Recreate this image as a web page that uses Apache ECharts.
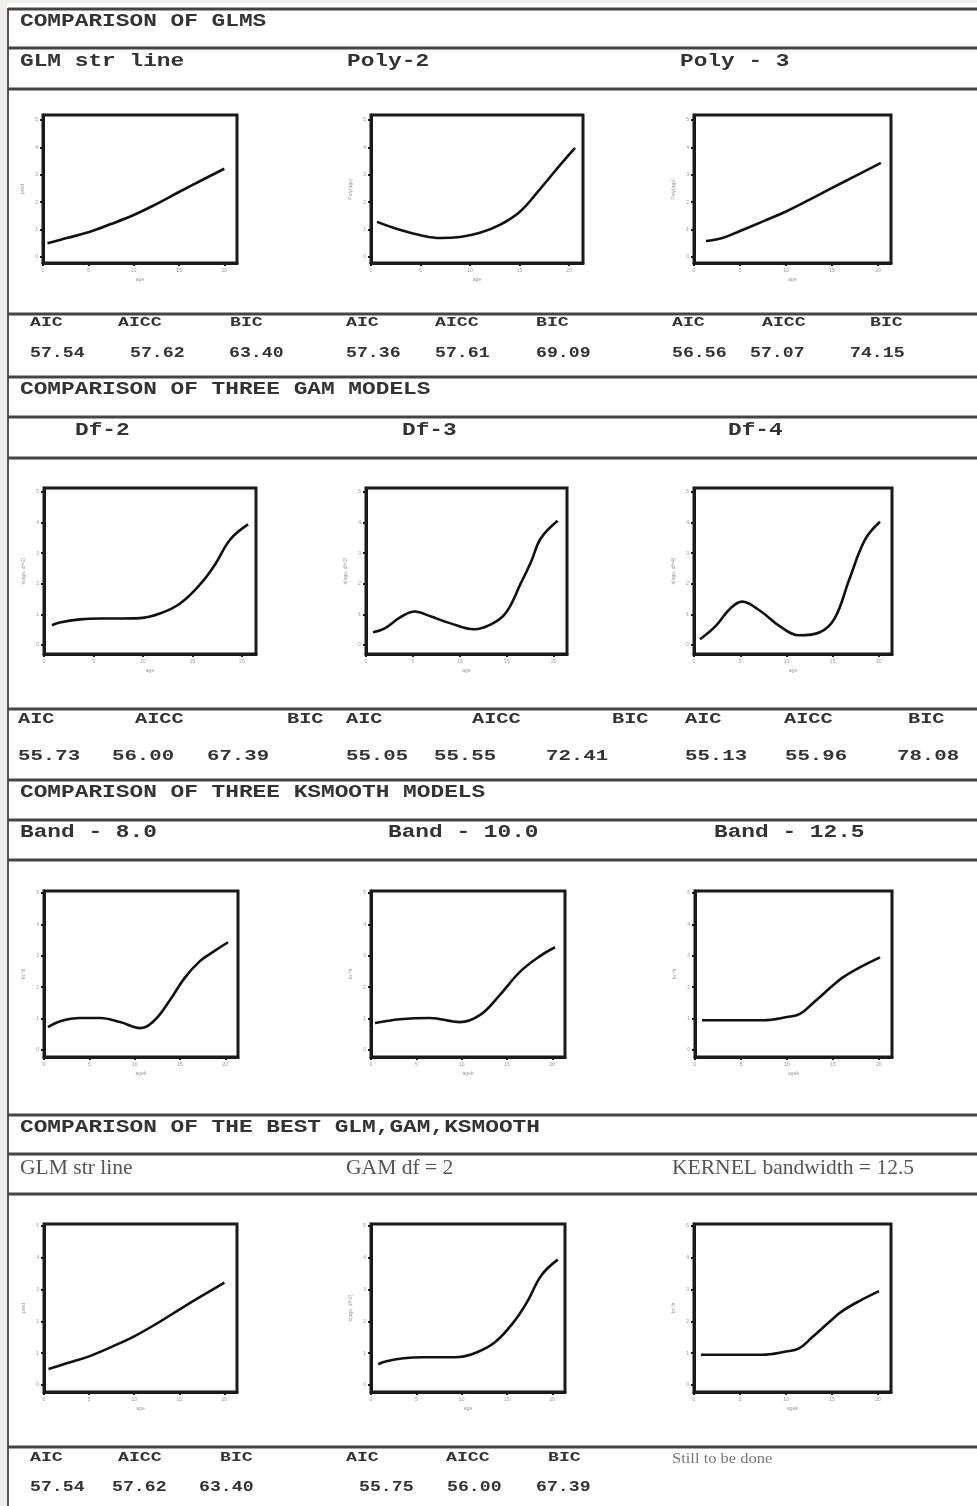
<!DOCTYPE html>
<html><head><meta charset="utf-8">
<script src="https://cdn.jsdelivr.net/npm/echarts@6/dist/echarts.min.js"></script>
<style>html,body{margin:0;padding:0;background:#fff}#c{width:977px;height:1506px}</style>
</head><body><div id="c"></div>
<script>
// ---- data ----
const xTicks = [0, 5, 10, 15, 20];
const yTicks = [0, 1, 2, 3, 4, 5];
const xTickLabels = ['0', '5', '10', '15', '20'];
const yTickLabels = ['0', '1', '2', '3', '4', '5'];

const glmX   = [0.5, 2.5, 5, 7.5, 10, 12.5, 15, 17.5, 20];
const glmY   = [0.5, 0.68, 0.9, 1.2, 1.53, 1.93, 2.37, 2.8, 3.22];
const poly2X = [0.6, 2.9, 4.9, 7.0, 9.0, 11.0, 13.0, 15.0, 17.0, 19.1, 20.6];
const poly2Y = [1.28, 0.99, 0.8, 0.69, 0.73, 0.88, 1.17, 1.64, 2.45, 3.36, 3.98];
const poly3X = [1.3, 3, 5, 7.5, 10, 12.5, 15, 17.5, 20.3];
const poly3Y = [0.58, 0.68, 0.95, 1.3, 1.66, 2.08, 2.52, 2.95, 3.43];
const gam2X  = [0.8, 1.6, 3.6, 5.7, 7.7, 9.7, 11.7, 13.7, 15.8, 17.3, 18.8, 20.6];
const gam2Y  = [0.65, 0.74, 0.84, 0.87, 0.87, 0.88, 1.03, 1.35, 2.0, 2.65, 3.45, 3.94];
const gam3X  = [0.75, 2.0, 3.6, 5.2, 6.85, 9.0, 11.5, 13.3, 14.9, 16.5, 17.6, 18.6, 20.4];
const gam3Y  = [0.42, 0.55, 0.9, 1.1, 0.94, 0.71, 0.52, 0.68, 1.06, 2.03, 2.74, 3.48, 4.06];
const gam4X  = [0.65, 2.3, 3.9, 5.2, 7.1, 9.3, 11.4, 13.6, 15.2, 16.8, 18.5, 20.1];
const gam4Y  = [0.19, 0.61, 1.19, 1.42, 1.13, 0.61, 0.32, 0.42, 0.87, 2.16, 3.45, 4.03];
const band8X  = [0.44, 1.8, 4.0, 6.2, 8.4, 10.6, 12.2, 13.9, 15.5, 17.2, 18.9, 20.3];
const band8Y  = [0.73, 0.92, 1.02, 1.02, 0.89, 0.7, 0.95, 1.59, 2.29, 2.83, 3.17, 3.43];
const band10X = [0.44, 3.2, 6.5, 9.8, 12.0, 14.2, 16.4, 18.6, 20.3];
const band10Y = [0.86, 0.98, 1.02, 0.89, 1.11, 1.75, 2.48, 2.98, 3.27];
const band125X = [0.76, 4.9, 7.4, 10.0, 11.4, 12.8, 15.0, 16.1, 17.9, 20.1];
const band125Y = [0.95, 0.95, 0.95, 1.05, 1.15, 1.49, 2.06, 2.32, 2.63, 2.95];

const sectionTitles = ['COMPARISON OF GLMS', 'COMPARISON OF THREE GAM MODELS',
  'COMPARISON OF THREE KSMOOTH MODELS', 'COMPARISON OF THE BEST GLM,GAM,KSMOOTH'];
const modelNames = [
  ['GLM str line', 'Poly-2', 'Poly - 3'],
  ['Df-2', 'Df-3', 'Df-4'],
  ['Band - 8.0', 'Band - 10.0', 'Band - 12.5'],
  ['GLM str line', 'GAM df = 2', 'KERNEL bandwidth = 12.5']
];
const statNames = ['AIC', 'AICC', 'BIC'];
const glmStats  = ['57.54', '57.62', '63.40', '57.36', '57.61', '69.09', '56.56', '57.07', '74.15'];
const gamStats  = ['55.73', '56.00', '67.39', '55.05', '55.55', '72.41', '55.13', '55.96', '78.08'];
const bestStats = ['57.54', '57.62', '63.40', '55.75', '56.00', '67.39'];
const pendingNote = 'Still to be done';

// ---- layout ----
const panels = [
  {g:[43,115,194,148], x:glmX, y:glmY, yr:[-0.22,5.18], xn:'age', yn:'pred'},
  {g:[371,115,212,148], x:poly2X, y:poly2Y, yr:[-0.22,5.18], xn:'age', yn:'Poly(age)'},
  {g:[694,115,197,148], x:poly3X, y:poly3Y, yr:[-0.22,5.18], xn:'age', yn:'Poly(age)'},
  {g:[44,488,212,166], x:gam2X, y:gam2Y, yr:[-0.29,5.13], xn:'age', yn:'s(age, df=2)'},
  {g:[366,488,201,166], x:gam3X, y:gam3Y, yr:[-0.29,5.13], xn:'age', yn:'s(age, df=3)'},
  {g:[694,488,198,166], x:gam4X, y:gam4Y, yr:[-0.29,5.13], xn:'age', yn:'s(age, df=4)'},
  {g:[44,891,194,166], x:band8X, y:band8Y, yr:[-0.22,5.06], xn:'agek', yn:'ks fit'},
  {g:[371,891,194,166], x:band10X, y:band10Y, yr:[-0.22,5.06], xn:'agek', yn:'ks fit'},
  {g:[695,891,197,166], x:band125X, y:band125Y, yr:[-0.22,5.06], xn:'agek', yn:'ks fit'},
  {g:[44,1224,193,168], x:glmX, y:glmY, yr:[-0.22,5.06], xn:'age', yn:'pred'},
  {g:[371,1224,194,168], x:gam2X, y:gam2Y, yr:[-0.22,5.06], xn:'age', yn:'s(age, df=2)'},
  {g:[694,1224,197,168], x:band125X, y:band125Y, yr:[-0.22,5.06], xn:'agek', yn:'ks fit'}
];

const grid = [], xAxis = [], yAxis = [], series = [];
panels.forEach((p, i) => {
  grid.push({left:p.g[0], top:p.g[1], width:p.g[2], height:p.g[3], show:true,
    borderColor:'#1a1a1a', borderWidth:3, backgroundColor:'#fff'});
  xAxis.push({type:'value', gridIndex:i, min:0, max:21.4, position:'bottom',
    name:p.xn, nameLocation:'middle', nameGap:14, nameTextStyle:{fontSize:5, color:'#999'},
    axisLine:{show:true, onZero:false, lineStyle:{color:'#1a1a1a', width:3}},
    axisTick:{show:true, length:3, customValues:xTicks, lineStyle:{color:'#1a1a1a', width:2}},
    axisLabel:{show:true, customValues:xTicks, fontSize:5, color:'#999', margin:5,
      formatter:v => xTickLabels[xTicks.indexOf(v)] || ''},
    splitLine:{show:false}});
  yAxis.push({type:'value', gridIndex:i, min:p.yr[0], max:p.yr[1], position:'left',
    name:p.yn, nameLocation:'middle', nameGap:18, nameRotate:90, nameTextStyle:{fontSize:5, color:'#999'},
    axisLine:{show:true, onZero:false, lineStyle:{color:'#1a1a1a', width:3}},
    axisTick:{show:true, length:3, customValues:yTicks, lineStyle:{color:'#1a1a1a', width:2}},
    axisLabel:{show:true, customValues:yTicks, fontSize:5, color:'#999', margin:5,
      formatter:v => yTickLabels[yTicks.indexOf(v)] || ''},
    splitLine:{show:false}});
  series.push({type:'line', xAxisIndex:i, yAxisIndex:i, smooth:0.4, showSymbol:false,
    lineStyle:{color:'#111', width:2.6}, animation:false,
    data:p.x.map((v, k) => [v, p.y[k]])});
});

// ---- table graphics ----
const graphic = [];
graphic.push({type:'rect', shape:{x:0, y:0, width:977, height:3}, style:{fill:'#efeeec'}, silent:true});
graphic.push({type:'rect', shape:{x:0, y:0, width:7, height:1506}, style:{fill:'#efeeec'}, silent:true});
graphic.push({type:'line', shape:{x1:8, y1:8, x2:8, y2:1506}, style:{stroke:'#555', lineWidth:2}, silent:true});
const rules = [9, 48, 89, 314, 377, 417, 458, 709, 780, 820, 860, 1115, 1154, 1194, 1447];
rules.forEach(y => graphic.push({type:'line', shape:{x1:8, y1:y, x2:977, y2:y},
  style:{stroke:'#444', lineWidth:3}, silent:true}));

function txt(x, y, t, font, fill, sx) {
  graphic.push({type:'text', x:x, y:y, scaleX:sx || 1, silent:true,
    style:{text:t, font:font, fill:fill, align:'left', verticalAlign:'middle'}});
}
const monoH = 'bold 19px "Liberation Mono", "DejaVu Sans Mono", monospace';
const hdrY = [21, 389, 792, 1127];
sectionTitles.forEach((t, i) => txt(20, hdrY[i], t, monoH, '#333', 1.2));
const subY = [61, 430, 832];
const subX = [[20, 347, 680], [75, 402, 728], [20, 388, 714]];
for (let r = 0; r < 3; r++) for (let c = 0; c < 3; c++) txt(subX[r][c], subY[r], modelNames[r][c], monoH, '#333', 1.2);
const serif = '22px "Liberation Serif", "DejaVu Serif", serif';
[20, 346, 672].forEach((x, c) => txt(x, 1168, modelNames[3][c], serif, '#555', 0.98));

const monoS = 'bold 13px "Liberation Mono", "DejaVu Sans Mono", monospace';
const monoV = 'bold 14px "Liberation Mono", "DejaVu Sans Mono", monospace';
const monoS2 = 'bold 14px "Liberation Mono", "DejaVu Sans Mono", monospace';
const monoV2 = 'bold 15px "Liberation Mono", "DejaVu Sans Mono", monospace';
// row 1 stats
[30, 118, 230, 346, 435, 536, 672, 762, 870].forEach((x, k) => txt(x, 323, statNames[k % 3], monoS, '#333', 1.4));
[30, 130, 229, 346, 435, 536, 672, 750, 850].forEach((x, k) => txt(x, 353, glmStats[k], monoV, '#333', 1.3));
// row 2 stats
[18, 135, 287, 346, 472, 612, 685, 784, 908].forEach((x, k) => txt(x, 719, statNames[k % 3], monoS2, '#333', 1.45));
[18, 112, 207, 346, 434, 546, 685, 785, 897].forEach((x, k) => txt(x, 756, gamStats[k], monoV2, '#333', 1.38));
// row 4 stats
[30, 118, 220, 346, 446, 548].forEach((x, k) => txt(x, 1458, statNames[k % 3], monoS, '#333', 1.4));
[30, 112, 199, 359, 447, 536].forEach((x, k) => txt(x, 1487, bestStats[k], monoV, '#333', 1.3));
txt(672, 1459, pendingNote, '15px "Liberation Serif", serif', '#777', 1.1);

const chart = echarts.init(document.getElementById('c'), null, {renderer:'canvas'});
chart.setOption({backgroundColor:'#ffffff', animation:false, grid, xAxis, yAxis, series, graphic});
</script></body></html>
